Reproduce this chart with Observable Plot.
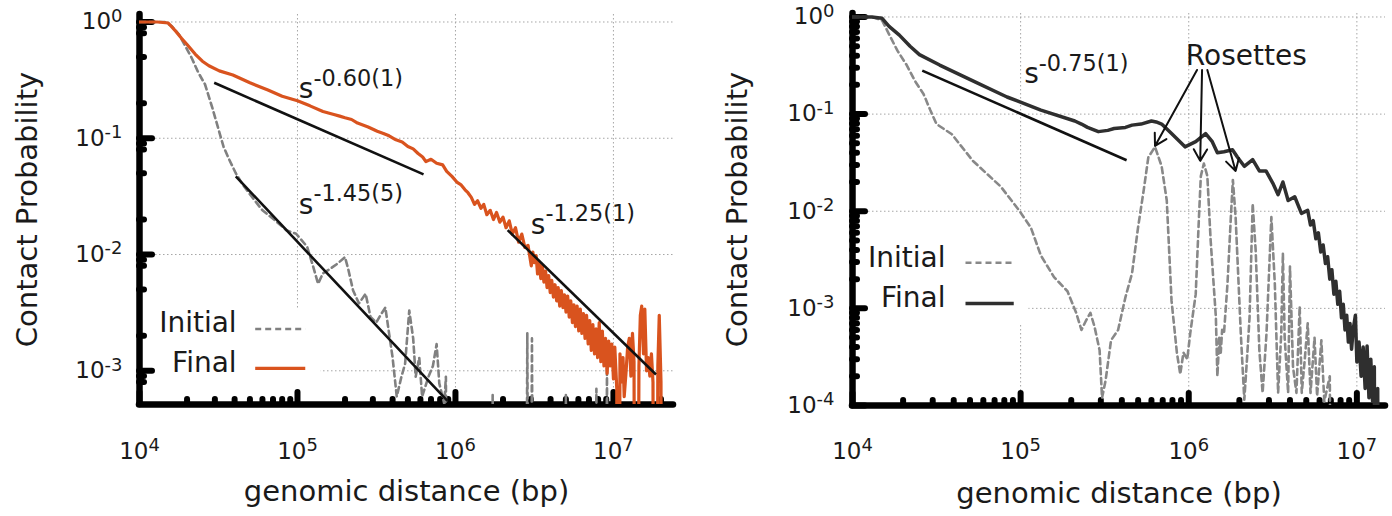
<!DOCTYPE html>
<html>
<head>
<meta charset="utf-8">
<script src="https://cdn.jsdelivr.net/npm/d3@7"></script>
<script src="https://cdn.jsdelivr.net/npm/@observablehq/plot@0.6"></script>
<style>
  html, body { margin: 0; padding: 0; background: #fff; }
  #wrap { display: flex; width: 1392px; height: 516px; overflow: hidden; }
</style>
</head>
<body>
<div id="wrap"></div>
<script>
// ---------------- DATA ----------------
// Left panel: "Initial" (grey dashed) contact probability vs genomic distance (bp)
const leftInitialS = [
  1.0e4, 1.45e4, 1.6e4, 1.78e4, 1.95e4, 2.14e4, 2.35e4, 2.6e4, 2.9e4, 3.16e4,
  3.4e4, 3.65e4, 4.07e4, 4.5e4, 5.0e4, 6.0e4, 7.1e4, 8.5e4, 9.8e4, 1.15e5,
  1.26e5, 1.35e5, 1.45e5, 1.58e5, 1.78e5, 2.0e5, 2.1e5, 2.25e5, 2.45e5, 2.7e5,
  2.9e5, 3.15e5, 3.4e5, 3.6e5, 3.8e5, 4.0e5, 4.25e5, 4.55e5, 4.8e5, 5.1e5,
  5.4e5, 5.6e5, 5.9e5, 6.15e5, 6.75e5, 7.2e5, 7.6e5, 7.9e5, 8.5e5, 8.7e5,
  9.0e5, 1.65e6, 1.72e6, 1.8e6, 2.75e6, 2.85e6, 2.95e6, 3.05e6, 3.15e6, 4.9e6,
  5.0e6, 5.1e6, 7.6e6, 7.8e6, 8.0e6, 8.9e6, 9.1e6, 9.3e6, 1.3e7
];
const leftInitialP = [
  1.0, 1.0, 0.92, 0.78, 0.62, 0.49, 0.37, 0.29, 0.18, 0.12,
  0.085, 0.068, 0.05, 0.04, 0.033, 0.024, 0.02, 0.0162, 0.0151, 0.0117,
  0.0078, 0.0056, 0.0069, 0.0074, 0.0083, 0.0095, 0.0074, 0.0049, 0.0038, 0.0046,
  0.0029, 0.0026, 0.0031, 0.0035, 0.0021, 0.0013, 0.0006, 0.00089, 0.00115, 0.0033,
  0.0019, 0.00089, 0.0013, 0.0006, 0.00089, 0.0011, 0.0017, 0.00078, 0.00052, 0.00089,
  0, 0, 0.00062, 0, 0, 0.0021, 0, 0.0019, 0, 0,
  0.00062, 0, 0, 0.0007, 0, 0, 0.0012, 0, 0
];
// Left panel: "Final" (orange)
const leftFinalS = [
  1.0e4, 1.3e4, 1.52e4, 1.7e4, 1.85e4, 2.0e4, 2.25e4, 2.5e4, 2.75e4, 3.2e4,
  3.9e4, 5.0e4, 6.5e4, 8.0e4, 1.0e5, 1.2e5, 1.45e5, 1.7e5, 1.85e5, 2.0e5,
  2.2e5, 2.4e5, 2.8e5, 3.2e5, 3.5e5, 3.8e5, 4.2e5, 4.6e5, 5.0e5, 5.4e5,
  5.8e5, 6.2e5, 6.5e5, 7.0e5, 7.6e5, 8.3e5, 8.8e5, 9.5e5, 1.02e6, 1.08e6,
  1.15e6, 1.2e6, 1.26e6, 1.32e6, 1.38e6, 1.45e6, 1.51e6, 1.58e6, 1.66e6, 1.74e6,
  1.82e6, 1.91e6, 2.0e6, 2.09e6, 2.19e6, 2.29e6, 2.4e6, 2.51e6, 2.63e6, 2.75e6,
  2.88e6, 3.02e6, 3.09e6, 3.16e6, 3.24e6, 3.31e6, 3.39e6, 3.47e6, 3.55e6, 3.63e6,
  3.72e6, 3.8e6, 3.89e6, 3.98e6, 4.07e6, 4.17e6, 4.27e6, 4.37e6, 4.47e6, 4.57e6,
  4.68e6, 4.79e6, 4.9e6, 5.01e6, 5.13e6, 5.25e6, 5.37e6, 5.5e6, 5.62e6, 5.75e6,
  5.89e6, 6.03e6, 6.17e6, 6.31e6, 6.46e6, 6.61e6, 6.76e6, 6.92e6, 7.08e6, 7.24e6,
  7.41e6, 7.59e6, 7.76e6, 7.94e6, 8.13e6, 8.32e6, 8.51e6, 8.71e6, 8.91e6, 9.12e6,
  9.33e6, 9.55e6, 9.77e6, 1.0e7, 1.02e7, 1.05e7, 1.07e7, 1.1e7, 1.12e7, 1.15e7,
  1.17e7, 1.2e7, 1.23e7, 1.26e7, 1.29e7, 1.32e7, 1.35e7, 1.38e7, 1.41e7, 1.45e7,
  1.48e7, 1.51e7, 1.55e7, 1.58e7, 1.62e7, 1.66e7, 1.7e7, 1.74e7, 1.78e7, 1.82e7,
  1.86e7, 1.91e7, 1.95e7, 2.0e7, 2.04e7, 2.1e7
];
const leftFinalP = [
  1.0, 1.0, 0.98, 0.83, 0.72, 0.64, 0.53, 0.46, 0.42, 0.38,
  0.35, 0.30, 0.26, 0.23, 0.21, 0.19, 0.17, 0.16, 0.155, 0.15,
  0.145, 0.135, 0.125, 0.115, 0.11, 0.105, 0.097, 0.093, 0.085, 0.081,
  0.074, 0.069, 0.063, 0.066, 0.061, 0.059, 0.052, 0.047, 0.042, 0.040,
  0.036, 0.034, 0.031, 0.027, 0.029, 0.025, 0.027, 0.022, 0.024, 0.020,
  0.023, 0.019, 0.021, 0.017, 0.0195, 0.015, 0.017, 0.0128, 0.015, 0.0115,
  0.012, 0.008, 0.0105, 0.0085, 0.0098, 0.0068, 0.0085, 0.0062, 0.008, 0.0058,
  0.0072, 0.0052, 0.0066, 0.0047, 0.006, 0.0043, 0.0055, 0.004, 0.0052, 0.0036,
  0.0049, 0.0035, 0.0045, 0.0032, 0.0044, 0.0029, 0.004, 0.0026, 0.0037, 0.0024,
  0.0036, 0.0022, 0.0034, 0.0021, 0.0031, 0.0019, 0.003, 0.0017, 0.0027, 0.0015,
  0.0025, 0.0014, 0.0023, 0.0013, 0.0026, 0.0012, 0.0022, 0.0011, 0.0019, 0.00095,
  0.0018, 0.0011, 0.0017, 0.00085, 0.0016, 0.0007, 0, 0.0014, 0.0008, 0.0013,
  0.0006, 0.00095, 0.0016, 0.0019, 0.0009, 0.0021, 0.0012, 0, 0, 0.0011,
  0.003, 0.0036, 0.0014, 0.0034, 0.001, 0.0013, 0.0009, 0.0014, 0.0008, 0,
  0, 0.0011, 0.003, 0.0008, 0, 0
];
// Right panel: "Initial" (grey dashed)
const rightInitialS = [
  1.0e4, 1.32e4, 1.5e4, 1.66e4, 1.85e4, 2.1e4, 2.35e4, 2.65e4, 2.9e4, 3.16e4,
  3.9e4, 5.2e4, 7.6e4, 9.8e4, 1.15e5, 1.32e5, 1.58e5, 1.9e5, 2.14e5, 2.3e5,
  2.45e5, 2.6e5, 2.75e5, 2.95e5, 3.05e5, 3.2e5, 3.45e5, 3.8e5, 4.2e5, 4.6e5,
  5.0e5, 5.4e5, 5.75e5, 6.3e5, 6.9e5, 7.4e5, 7.9e5, 8.5e5, 8.9e5, 9.3e5,
  9.8e5, 1.02e6, 1.1e6, 1.15e6, 1.18e6, 1.23e6, 1.29e6, 1.35e6, 1.45e6, 1.48e6,
  1.52e6, 1.55e6, 1.58e6, 1.62e6, 1.7e6, 1.78e6, 1.83e6, 1.9e6, 2.04e6, 2.14e6,
  2.22e6, 2.3e6, 2.4e6, 2.5e6, 2.63e6, 2.75e6, 2.9e6, 3.1e6, 3.25e6, 3.4e6,
  3.55e6, 3.63e6, 3.72e6, 3.9e6, 4.0e6, 4.17e6, 4.37e6, 4.57e6, 4.7e6, 4.9e6,
  5.1e6, 5.3e6, 5.6e6, 5.8e6, 6.15e6, 6.4e6, 6.9e6, 7.2e6
];
const rightInitialP = [
  1.0, 1.0, 0.92, 0.65, 0.45, 0.32, 0.22, 0.16, 0.11, 0.079,
  0.062, 0.033, 0.018, 0.0102, 0.0068, 0.0035, 0.0021, 0.0015, 0.0009, 0.0006,
  0.00075, 0.0009, 0.00065, 0.00037, 0.00012, 0.00018, 0.00047, 0.0006, 0.0013, 0.0023,
  0.0069, 0.0166, 0.036, 0.046, 0.029, 0.0129, 0.0012, 0.00035, 0.00021, 0.00035,
  0.0003, 0.00055, 0.0014, 0.0087, 0.023, 0.031, 0.023, 0.005, 0.00081, 0.0002,
  0.0005, 0.00035, 0.0006, 0.00055, 0.0018, 0.0087, 0.021, 0.0087, 0.00055, 0.000115,
  0.0003, 0.00081, 0.012, 0.004, 0.00037, 0.000135, 0.00055, 0.0087, 0.0018, 0.000135,
  0.00055, 0.0037, 0.0005, 0.000135, 0.0027, 0.00025, 0.000135, 0.00105, 0.000135, 0.0003,
  0.0007, 0.000135, 0.0005, 0.000125, 0.00047, 0.00011, 0.0002, 0
];
// Right panel: "Final" (dark solid)
const rightFinalS = [
  1.0e4, 1.3e4, 1.5e4, 1.65e4, 1.9e4, 2.2e4, 2.5e4, 3.3e4, 5.2e4, 8.3e4,
  1.32e5, 2.1e5, 2.3e5, 2.5e5, 2.9e5, 3.3e5, 3.6e5, 4.2e5, 4.6e5, 5.2e5,
  6.0e5, 6.4e5, 6.9e5, 7.9e5, 9.5e5, 1.1e6, 1.26e6, 1.38e6, 1.48e6, 1.62e6,
  1.82e6, 1.95e6, 2.14e6, 2.4e6, 2.63e6, 2.88e6, 3.16e6, 3.4e6, 3.63e6, 3.9e6,
  4.27e6, 4.68e6, 5.1e6, 5.3e6, 5.5e6, 5.7e6, 5.9e6, 6.1e6, 6.3e6, 6.5e6,
  6.7e6, 6.9e6, 7.1e6, 7.3e6, 7.5e6, 7.7e6, 7.9e6, 8.1e6, 8.3e6, 8.5e6,
  8.7e6, 8.9e6, 9.1e6, 9.3e6, 9.5e6, 9.8e6, 1.0e7, 1.03e7, 1.06e7, 1.09e7,
  1.12e7, 1.15e7, 1.18e7, 1.21e7, 1.24e7, 1.27e7, 1.3e7, 1.33e7, 1.36e7, 1.45e7
];
const rightFinalP = [
  1.0, 1.0, 0.97, 0.8, 0.65, 0.5, 0.41, 0.32, 0.22, 0.15,
  0.11, 0.085, 0.079, 0.073, 0.066, 0.068, 0.071, 0.073, 0.077, 0.079,
  0.085, 0.083, 0.079, 0.063, 0.046, 0.052, 0.063, 0.052, 0.040, 0.041,
  0.043, 0.036, 0.029, 0.034, 0.026, 0.026, 0.0195, 0.0148, 0.020, 0.0129,
  0.0141, 0.0095, 0.0102, 0.0072, 0.0080, 0.0052, 0.0060, 0.0038, 0.0045, 0.0029,
  0.0034, 0.0020, 0.0025, 0.0014, 0.0019, 0.0011, 0.0015, 0.0008, 0.0011, 0.0006,
  0.00085, 0.00045, 0.0007, 0.00038, 0.0006, 0.00085, 0.00028, 0.00045, 0.0002, 0.0004,
  0.00015, 0.00041, 0.00012, 0.0003, 0.00011, 0.00025, 0, 0.00015, 0, 0
];

// Power-law fit segments (start/end points)
const leftFitStartS = [2.97e4, 4.07e4, 2.14e6];
const leftFitStartP = [0.30, 0.047, 0.0162];
const leftFitEndS   = [6.28e5, 8.9e5, 1.86e7];
const leftFitEndP   = [0.0489, 5.5e-4, 9.3e-4];
const rightFitStartS = [2.6e4];
const rightFitStartP = [0.28];
const rightFitEndS   = [4.27e5];
const rightFitEndP   = [0.0335];

// Exponent annotations (left-aligned at the given point)
const leftNoteText = ["s^-0.60(1)", "s^-1.45(5)", "s^-1.25(1)"];
const leftNoteS = [1.02e5, 1.02e5, 3.0e6];
const leftNoteP = [0.22, 0.0224, 0.0151];
const rightNoteText = ["s^-0.75(1)"];
const rightNoteS = [1.05e5];
const rightNoteP = [0.21];
// Centered label
const rosetteLabel = ["Rosettes"];
const rosetteLabelS = [2.2e6];
const rosetteLabelP = [0.32];

// "Rosettes" arrows: tails and heads
const rosetteTailS = [1.12e6, 1.2e6, 1.29e6];
const rosetteTailP = [0.285, 0.285, 0.285];
const rosetteHeadS = [6.3e5, 1.17e6, 1.9e6];
const rosetteHeadP = [0.047, 0.033, 0.026];

// Legend
const legendLabels = ["Initial", "Final"];
const leftLegendTextS = 4.12e4, leftLegendTextP = [2.57e-3, 1.17e-3];
const leftLegendLineS = [5.4e4, 1.12e5], leftLegendLineP = [2.29e-3, 1.05e-3];
const rightLegendTextS = 3.57e4, rightLegendTextP = [3.3e-3, 1.29e-3];
const rightLegendLineS = [4.7e4, 9.1e4], rightLegendLineP = [2.95e-3, 1.12e-3];

// Ticks
const leftXMajor = [1e4, 1e5, 1e6, 1e7];
const leftXMinor = [2e4,3e4,4e4,5e4,6e4,7e4,8e4,9e4, 2e5,3e5,4e5,5e5,6e5,7e5,8e5,9e5,
                    2e6,3e6,4e6,5e6,6e6,7e6,8e6,9e6, 2e7];
const leftYMajor = [1, 0.1, 0.01, 0.001];
const leftYMinor = [0.9,0.8,0.5,0.2, 0.09,0.08,0.05,0.02, 0.009,0.008,0.005,0.002, 9e-4,8e-4];
const rightXMajor = [1e4, 1e5, 1e6, 1e7];
const rightXMinor = [2e4,3e4,4e4,5e4,6e4,7e4,8e4,9e4, 2e5,3e5,4e5,5e5,6e5,7e5,8e5,9e5,
                     2e6,3e6,4e6,5e6,6e6,7e6,8e6,9e6];
const rightYMajor = [1, 0.1, 0.01, 0.001, 1e-4];
const rightYMinor = [0.9,0.8,0.7,0.6,0.5,0.4,0.3,0.2, 0.09,0.08,0.07,0.06,0.05,0.04,0.03,0.02,
                     0.009,0.008,0.007,0.006,0.005,0.004,0.003,0.002,
                     9e-4,8e-4,7e-4,6e-4,5e-4,4e-4,3e-4,2e-4];
const gridX = [1e5, 1e6, 1e7];
const gridY = [1, 0.1, 0.01, 0.001];

// ---------------- helpers ----------------
const FONT = "DejaVu Sans";
const BELOW_AXIS = 1e-8; // zero probability is drawn down to (and clipped at) the axis
const series = (S, P) => S.map((s, i) => ({s, p: P[i] > 0 ? P[i] : BELOW_AXIS}));
const segs = (S1, P1, S2, P2) => S1.map((s, i) => ({x1: s, y1: P1[i], x2: S2[i], y2: P2[i]}));
const labels = (T, S, P) => T.map((text, i) => ({text, s: S[i], p: P[i]}));
const pow10 = d => "10^" + Math.round(Math.log10(d));

function superscripts(svg) {
  const ns = "http://www.w3.org/2000/svg";
  svg.querySelectorAll('[aria-label$="tick label"]').forEach(g => {
    g.setAttribute("font-size", 23);
    g.setAttribute("data-tick", "1");
  });
  svg.querySelectorAll("text").forEach(t => {
    if (t.querySelector("tspan")) return;
    const s = t.textContent;
    const i = s.indexOf("^");
    if (i < 0) return;
    const isTick = !!t.closest('[data-tick]');
    t.textContent = s.slice(0, i);
    const sup = document.createElementNS(ns, "tspan");
    sup.setAttribute("dy", isTick ? "-0.42em" : "-0.55em");
    sup.setAttribute("font-size", isTick ? "0.78em" : "0.8em");
    sup.textContent = s.slice(i + 1);
    t.appendChild(sup);
  });
}

function panel(c) {
  const W = 696, H = 516;
  const fw = W - c.mL - c.mR, fh = H - c.mT - c.mB;
  const tickStyle = {stroke: "#000", strokeWidth: 6, strokeLinecap: "round"};
  const txt = {fontSize: 28, fill: "#1a1a1a"};
  const marks = [
    Plot.ruleX(gridX, {stroke: "#a6a6a6", strokeWidth: 1, strokeDasharray: "1.5,2.5"}),
    Plot.ruleY(gridY, {stroke: "#a6a6a6", strokeWidth: 1, strokeDasharray: "1.5,2.5"}),
    Plot.rect([c.box], {x1: "x1", x2: "x2", y1: "y1", y2: "y2", fill: "white"}),
    // axes (left & bottom only), drawn first so the curves overlap them
    Plot.ruleY([c.yDomain[0]], {stroke: "#000", strokeWidth: 6.5, strokeLinecap: "round"}),
    Plot.ruleX([c.xDomain[0]], {stroke: "#000", strokeWidth: 6.5, strokeLinecap: "round"}),
    Plot.tickX(c.xMinor, {x: d => d, insetTop: fh - 5, ...tickStyle}),
    Plot.tickX(c.xMajor, {x: d => d, insetTop: fh - 12, ...tickStyle}),
    Plot.tickY(c.yMinor, {y: d => d, insetRight: fw - 5, ...tickStyle}),
    Plot.tickY(c.yMajor, {y: d => d, insetRight: fw - 13, ...tickStyle}),
    // data
    Plot.line(c.initial, {x: "s", y: "p", stroke: c.initialColor, strokeWidth: 2.6,
      strokeDasharray: "6,4", clip: true}),
    Plot.line(c.final, {x: "s", y: "p", stroke: c.finalColor, strokeWidth: c.finalWidth,
      strokeLinejoin: "round", clip: true}),
    // fits
    Plot.link(c.fits, {x1: "x1", y1: "y1", x2: "x2", y2: "y2", stroke: "#111", strokeWidth: 2.6}),
    // legend
    Plot.text(legendLabels, {x: () => c.legendTextS, y: (d, i) => c.legendTextP[i], text: d => d,
      textAnchor: "end", ...txt}),
    Plot.link([0], {x1: () => c.legendLineS[0], x2: () => c.legendLineS[1],
      y1: () => c.legendLineP[0], y2: () => c.legendLineP[0],
      stroke: c.initialColor, strokeWidth: 2.6, strokeDasharray: "6,4"}),
    Plot.link([1], {x1: () => c.legendLineS[0], x2: () => c.legendLineS[1],
      y1: () => c.legendLineP[1], y2: () => c.legendLineP[1],
      stroke: c.finalColor, strokeWidth: c.finalWidth}),
    // annotations
    Plot.text(c.notes, {x: "s", y: "p", text: "text", textAnchor: "start", lineAnchor: "bottom", ...txt}),
    // axis titles
    Plot.text(["Contact Probability"], {frameAnchor: "left", dx: c.yTitleDx, rotate: -90,
      textAnchor: "middle", lineAnchor: "bottom", fontSize: 29, fill: "#1a1a1a"}),
    Plot.text(["genomic distance (bp)"], {frameAnchor: "bottom", dy: c.xTitleDy,
      textAnchor: "middle", lineAnchor: "bottom", fontSize: 29, fill: "#1a1a1a"})
  ];
  if (c.centerNotes) marks.push(Plot.text(c.centerNotes, {x: "s", y: "p", text: "text",
    textAnchor: "middle", lineAnchor: "bottom", ...txt}));
  if (c.arrows) marks.push(Plot.arrow(c.arrows, {x1: "x1", y1: "y1", x2: "x2", y2: "y2",
    stroke: "#111", strokeWidth: 2, headLength: 10}));
  const svg = Plot.plot({
    width: W, height: H,
    marginLeft: c.mL, marginRight: c.mR, marginTop: c.mT, marginBottom: c.mB,
    style: {fontFamily: FONT, fontSize: "23px", color: "#1a1a1a", background: "white", overflow: "visible"},
    x: {type: "log", domain: c.xDomain, ticks: c.xMajor, tickFormat: pow10,
        tickSize: 0, tickPadding: c.xTickPad, label: null},
    y: {type: "log", domain: c.yDomain, ticks: c.yMajor, tickFormat: pow10,
        tickSize: 0, tickPadding: c.yTickPad, label: null},
    marks
  });
  superscripts(svg);
  return svg;
}

const wrap = document.getElementById("wrap");

wrap.appendChild(panel({
  mL: 139, mR: 23, mT: 14, mB: 112,
  xDomain: [1e4, 2.4e7], yDomain: [5.13e-4, 1.16],
  xMajor: leftXMajor, xMinor: leftXMinor, yMajor: leftYMajor, yMinor: leftYMinor,
  xTickPad: 38, yTickPad: 17, yTitleDx: -103, xTitleDy: 96,
  initial: series(leftInitialS, leftInitialP), initialColor: "#808080",
  final: series(leftFinalS, leftFinalP), finalColor: "#d9531e", finalWidth: 3.2,
  fits: segs(leftFitStartS, leftFitStartP, leftFitEndS, leftFitEndP),
  notes: labels(leftNoteText, leftNoteS, leftNoteP),
  legendTextS: leftLegendTextS, legendTextP: leftLegendTextP,
  legendLineS: leftLegendLineS, legendLineP: leftLegendLineP,
  box: {x1: 1e4, x2: 1.41e5, y1: 5.13e-4, y2: 3.3e-3}
}));

wrap.appendChild(panel({
  mL: 156, mR: 7, mT: 13, mB: 111,
  xDomain: [1e4, 1.48e7], yDomain: [1e-4, 1.086],
  xMajor: rightXMajor, xMinor: rightXMinor, yMajor: rightYMajor, yMinor: rightYMinor,
  xTickPad: 37, yTickPad: 18, yTitleDx: -106, xTitleDy: 97,
  initial: series(rightInitialS, rightInitialP), initialColor: "#888888",
  final: series(rightFinalS, rightFinalP), finalColor: "#2f2f2f", finalWidth: 3.5,
  fits: segs(rightFitStartS, rightFitStartP, rightFitEndS, rightFitEndP),
  notes: labels(rightNoteText, rightNoteS, rightNoteP),
  centerNotes: labels(rosetteLabel, rosetteLabelS, rosetteLabelP),
  arrows: segs(rosetteTailS, rosetteTailP, rosetteHeadS, rosetteHeadP),
  legendTextS: rightLegendTextS, legendTextP: rightLegendTextP,
  legendLineS: rightLegendLineS, legendLineP: rightLegendLineP,
  box: {x1: 1e4, x2: 1.12e5, y1: 6.8e-4, y2: 9.5e-3}
}));
</script>
</body>
</html>
